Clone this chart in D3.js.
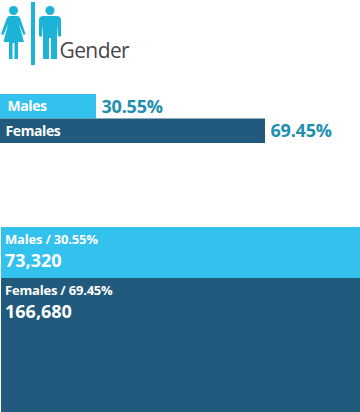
<!DOCTYPE html>
<html>
<head>
<meta charset="utf-8">
<script src="https://cdn.jsdelivr.net/npm/d3@7/dist/d3.min.js"></script>
<style>
  html, body { margin: 0; padding: 0; background: #fff; }
  svg { display: block; }
  text { font-family: "Open Sans", sans-serif; }
</style>
</head>
<body>
<svg id="chart" width="360" height="412"></svg>
<script>
const categories = ['Males', 'Females']
const percents = [30.55, 69.45]
const counts = [73320, 166680]
const barColors = ['#33c1ee', '#215a7c']
const title = 'Gender'

const svg = d3.select('#chart')
const iconColor = '#1cb4d6'
const fmt = d3.format(',')

// icon
const icon = svg.append('g').attr('fill', iconColor)
icon.append('circle').attr('cx', 13.5).attr('cy', 10.5).attr('r', 4.5)
icon.append('path').attr('d', 'M9.500 16 L17.500 16 Q19.500 16 20.500 19 L25.500 34 L23.500 35 L19 24 L24 42 L18 42 L18 59 L14.500 59 L14.500 43 L12.500 43 L12.500 59 L9 59 L9 42 L3.500 42 L8 24 L3.500 35 L1 34 L6.500 19 Q7.500 16 9.500 16 Z')
icon.append('rect').attr('x', 31).attr('y', 2).attr('width', 4).attr('height', 63)
icon.append('circle').attr('cx', 50).attr('cy', 10.5).attr('r', 4.5)
icon.append('path').attr('d', 'M43.500 16 L56.500 16 Q61 16 61 20 L61 36 Q59.500 37.500 58 36 L57 24 L57 59 L51 59 L51 38 L49 38 L49 59 L43 59 L43 24 L42 36 Q40.500 37.500 39 36 L39 20 Q39 16 43.500 16 Z')

svg.append('text').text(title)
  .attr('x', 59.5).attr('y', 58)
  .attr('fill', '#4a4649')
  .style('font-size', '21px')
  .style('letter-spacing', '-0.6px')

// top bars
const y = d3.scaleBand().domain(categories).range([94, 143])
const x = d3.scaleLinear().domain([percents[0], percents[1]]).range([96, 265])
const labelX = [8, 6]

const bars = svg.append('g')
categories.forEach((c, i) => {
  bars.append('rect')
    .attr('x', 0).attr('y', y(c))
    .attr('width', x(percents[i])).attr('height', y.bandwidth())
    .attr('fill', barColors[i])
  bars.append('text').text(c)
    .attr('x', labelX[i] - 0.5).attr('y', y(c) + y.bandwidth() / 2 + 5)
    .attr('fill', '#fff')
    .style('font-size', '14px').style('font-weight', 700)
    .style('letter-spacing', '-0.4px')
  bars.append('text').text(percents[i].toFixed(2) + '%')
    .attr('x', x(percents[i]) + 5.5).attr('y', y(c) + y.bandwidth() / 2 + 6.5)
    .attr('fill', '#1f8fb0')
    .style('font-size', '18px').style('font-weight', 700)
    .style('letter-spacing', '-0.2px')
})

// lower stacked panels
const cum = d3.cumsum(counts)
const yStack = d3.scaleLinear().domain([0, cum[0], cum[1]]).range([227, 278, 412])

const panels = svg.append('g')
categories.forEach((c, i) => {
  const top = yStack(i ? cum[i - 1] : 0)
  panels.append('rect')
    .attr('x', 1).attr('y', top)
    .attr('width', 359).attr('height', yStack(cum[i]) - top)
    .attr('fill', barColors[i])
  panels.append('text').text(c + ' / ' + percents[i].toFixed(2) + '%')
    .attr('x', 5).attr('y', top + 17)
    .attr('fill', '#fff')
    .style('font-size', '13px').style('font-weight', 700)
    .style('letter-spacing', '-0.2px')
  panels.append('text').text(fmt(counts[i]))
    .attr('x', 5).attr('y', top + 40)
    .attr('fill', '#fff')
    .style('font-size', '18px').style('font-weight', 700)
})
</script>
</body>
</html>
